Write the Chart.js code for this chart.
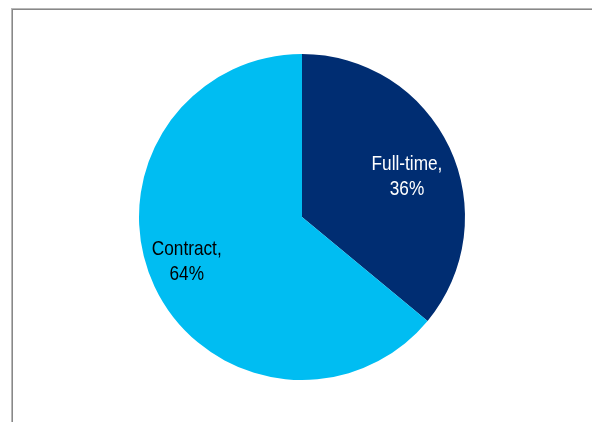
<!DOCTYPE html>
<html>
<head>
<meta charset="utf-8">
<script src="https://cdn.jsdelivr.net/npm/chart.js@4.4.0/dist/chart.umd.min.js"></script>
<style>
  html, body { margin: 0; padding: 0; background: #fff; }
  #wrap { position: relative; width: 592px; height: 422px; }
</style>
</head>
<body>
<div id="wrap"><canvas id="cnvs" width="592" height="422"></canvas></div>
<script>
// data
var categories = ['Full-time', 'Contract'];
var shares = [36, 64];
var sliceColors = ['#002D72', '#00BDF2'];
var labelColors = ['#ffffff', '#000000'];

// frame round the plot (grey top + left edge)
var framePlugin = {
    id: 'frame',
    beforeDraw: function(chart){
        var c = chart.ctx;
        c.save();
        c.fillStyle = '#b8b8b8';
        c.fillRect(11, 8, chart.width - 11, 1);
        c.fillRect(11, 8, 1, chart.height - 8);
        c.fillStyle = '#888888';
        c.fillRect(12, 9, chart.width - 12, 1);
        c.fillRect(12, 9, 1, chart.height - 9);
        c.restore();
    }
};

// narrow text: no Arial Narrow here, so squeeze Liberation Sans
function narrowText(c, txt, x, y){
    c.save();
    c.translate(x, y);
    c.scale(0.82, 1);
    c.fillText(txt, 0, 0);
    c.restore();
}

// "Name,\nxx%" labels inside the slices
var sliceLabels = {
    id: 'sliceLabels',
    afterDatasetsDraw: function(chart, args, opts){
        var c = chart.ctx;
        var meta = chart.getDatasetMeta(0);
        c.save();
        c.font = '21px "Liberation Sans", Arial, sans-serif';
        c.textAlign = 'center';
        c.textBaseline = 'middle';
        meta.data.forEach(function(arc, i){
            var p = arc.getProps(['x', 'y', 'startAngle', 'endAngle', 'outerRadius'], true);
            var a = (p.startAngle + p.endAngle) / 2 + opts.shift[i] * Math.PI / 180;
            var r = p.outerRadius * opts.dist[i];
            var cx = p.x + Math.cos(a) * r;
            var cy = p.y + Math.sin(a) * r;
            c.fillStyle = labelColors[i];
            narrowText(c, categories[i] + ',', cx, cy - 12);
            narrowText(c, shares[i] + '%', cx, cy + 13);
        });
        c.restore();
    }
};

var ctx = document.getElementById('cnvs').getContext('2d');
var chart = new Chart(ctx, {
    type: 'pie',
    data: {
        labels: categories,
        datasets: [{
            data: shares,
            backgroundColor: sliceColors,
            borderWidth: 0
        }]
    },
    options: {
        responsive: false,
        animation: false,
        layout: { padding: { top: 54, bottom: 42, left: 139, right: 127 } },
        plugins: {
            legend: { display: false },
            tooltip: { enabled: false },
            sliceLabels: { dist: [0.69, 0.757], shift: [4.2, 4.3] }
        }
    },
    plugins: [framePlugin, sliceLabels]
});
</script>
</body>
</html>
